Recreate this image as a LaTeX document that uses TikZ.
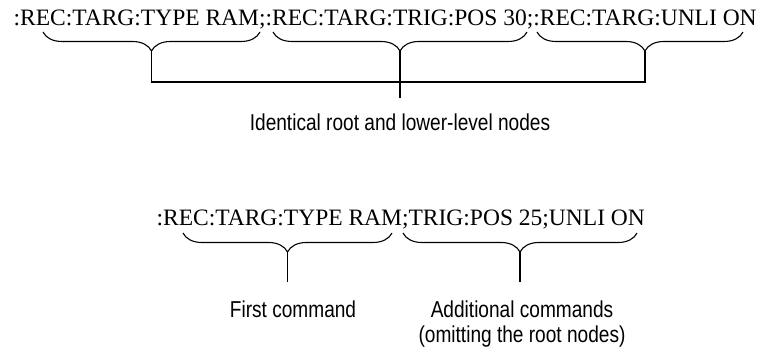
\documentclass[tikz,border=0pt]{standalone}
\usepackage{fontspec}
\setmainfont{Liberation Serif}
\newfontfamily\notefont[FakeStretch=0.83]{Liberation Sans}
\usetikzlibrary{decorations.pathreplacing}

\begin{document}
\begin{tikzpicture}[x=1pt,y=1pt,line width=1.1pt,
    command/.style={inner sep=0pt,anchor=base west,font=\fontsize{23.5}{28}\selectfont},
    note/.style={inner sep=0pt,align=center,font=\notefont\fontsize{23}{25}\selectfont},
    curly/.style={decorate,decoration={brace,amplitude=19pt,aspect=#1}},curly/.default=0.5]
    \useasboundingbox (0,0) rectangle (770,347);

    % each command written with its full path
    \node[command] (full) at (13,321) {:REC:TARG:TYPE RAM;:REC:TARG:TRIG:POS 30;:REC:TARG:UNLI ON};
    \draw[curly] (260,315) -- coordinate[yshift=-19pt] (tip a) (43,315);
    \draw[curly] (527,315) -- coordinate[yshift=-19pt] (tip b) (273,315);
    \draw[curly=0.476] (743,315) -- coordinate[pos=0.476,yshift=-19pt] (tip c) (537,315);
    \draw (tip a) -- (tip a |- 0,265) -- (tip c |- 0,265) -- (tip c);
    \draw (tip b) -- (tip b |- 0,249) coordinate (stem);
    \node[note,anchor=north] (same) at (400,234) {Identical root and lower-level nodes};

    % the same commands with the root nodes left out
    \node[command] (short) at (156,121) {:REC:TARG:TYPE RAM;TRIG:POS 25;UNLI ON};
    \draw[curly] (392,114) -- coordinate[yshift=-19pt] (tip d) (183,114);
    \draw[curly] (637,114) -- coordinate[yshift=-19pt] (tip e) (403,114);
    \draw (tip d) -- (tip d |- 0,65);
    \draw (tip e) -- (tip e |- 0,65);
    \node[note,anchor=north] (first) at (293,47) {First command};
    \node[note,anchor=north] (more) at (522,47) {Additional commands\\(omitting the root nodes)};
\end{tikzpicture}
\end{document}
